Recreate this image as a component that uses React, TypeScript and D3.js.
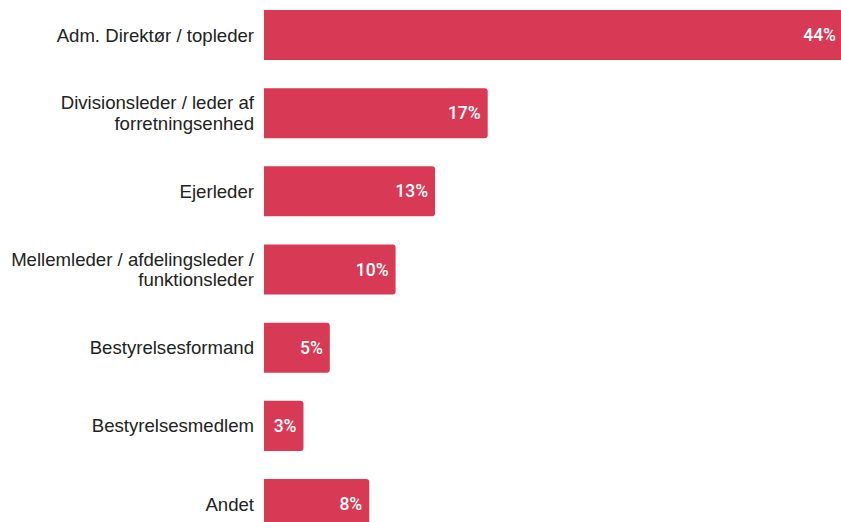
import React from "react";
import * as d3 from "d3";

const categories: string[][] = [
  ["Adm. Direktør / topleder"],
  ["Divisionsleder / leder af", "forretningsenhed"],
  ["Ejerleder"],
  ["Mellemleder / afdelingsleder /", "funktionsleder"],
  ["Bestyrelsesformand"],
  ["Bestyrelsesmedlem"],
  ["Andet"],
];
const values: number[] = [44, 17, 13, 10, 5, 3, 8];
const valueLabels: string[] = ["44%", "17%", "13%", "10%", "5%", "3%", "8%"];

const W = 841;
const H = 522;
const X0 = 264;
const COLOR = "#d83a56";

export default function App() {
  const keys = categories.map((c) => c.join(" "));
  const step = 78.17;
  const padIn = 0.36;
  const padOut = padIn / 2;
  const start = 10 - padOut * step;
  const y = d3
    .scaleBand<string>()
    .domain(keys)
    .range([start, start + keys.length * step])
    .paddingInner(padIn)
    .paddingOuter(padOut);
  const x = d3.scaleLinear().domain([0, 44]).range([X0, 843]);
  const r = 3;

  const barPath = (x1: number, y0: number, h: number) =>
    `M${X0},${y0}H${x1 - r}Q${x1},${y0} ${x1},${y0 + r}V${y0 + h - r}Q${x1},${y0 + h} ${x1 - r},${y0 + h}H${X0}Z`;

  return (
    <svg
      width={W}
      height={H}
      style={{ position: "fixed", left: 0, top: 0, background: "#fff" }}
      fontFamily="'Liberation Sans', Arial, sans-serif"
    >
      {keys.map((k, i) => {
        const y0 = y(k)!;
        const h = y.bandwidth();
        const cy = y0 + h / 2;
        const lines = categories[i];
        const lh = 20.5;
        const x1 = x(values[i]);
        return (
          <g key={k}>
            <path d={barPath(x1, y0, h)} fill={COLOR} />
            <text
              x={x1 - 7}
              y={cy}
              dy="0.35em"
              textAnchor="end"
              fill="#fff"
              fontFamily="Roboto, 'Liberation Sans', sans-serif"
              fontWeight={500}
              fontSize={17.5}
            >
              {valueLabels[i]}
            </text>
            <text x={X0 - 10} textAnchor="end" fill="#222" fontSize={18.6}>
              {lines.map((l, j) => (
                <tspan
                  key={j}
                  x={X0 - 10}
                  y={cy + (j - (lines.length - 1) / 2) * lh}
                  dy="0.35em"
                >
                  {l}
                </tspan>
              ))}
            </text>
          </g>
        );
      })}
    </svg>
  );
}
